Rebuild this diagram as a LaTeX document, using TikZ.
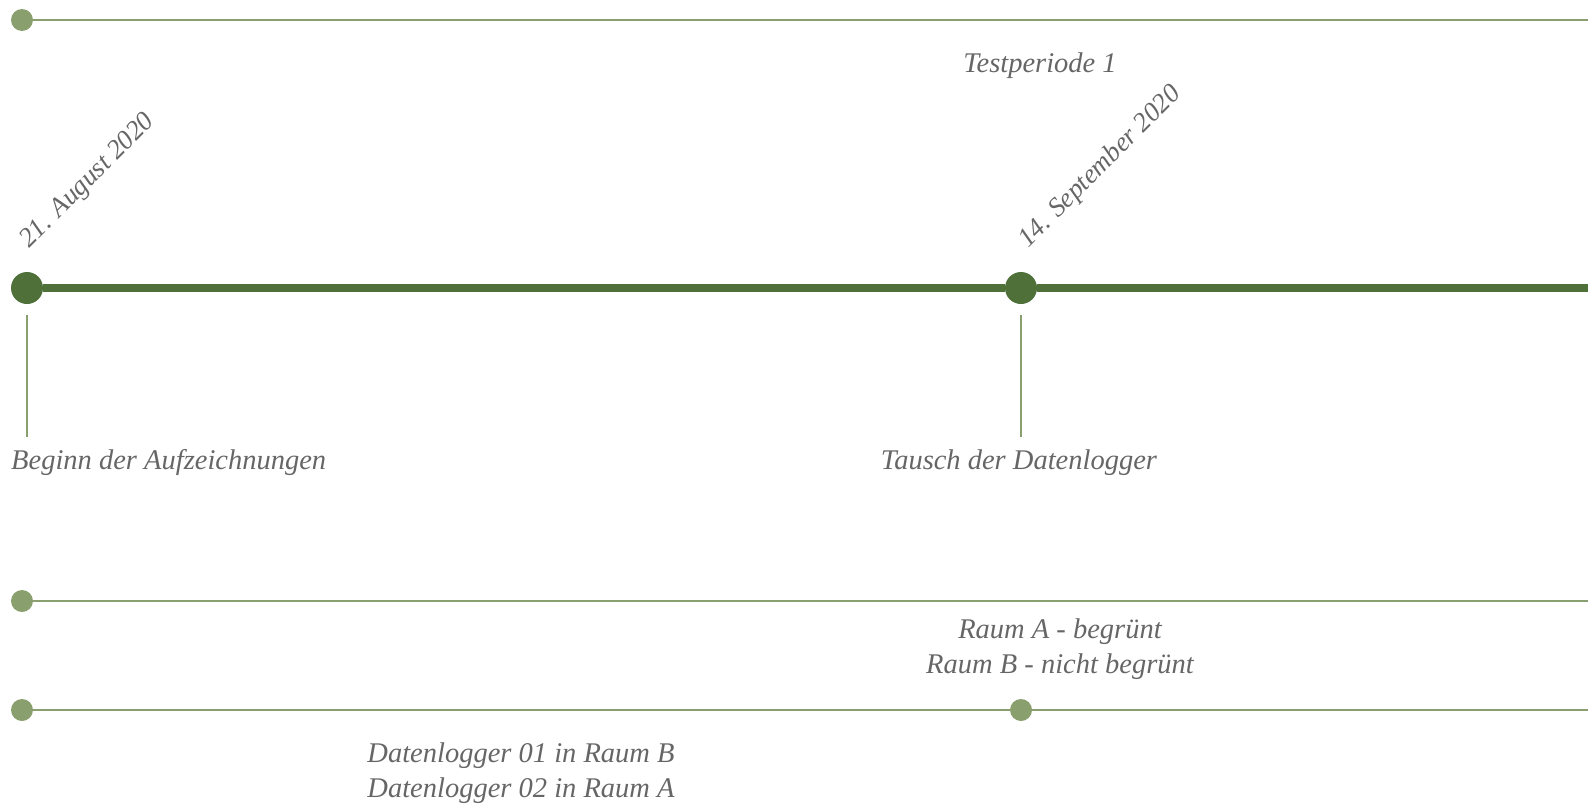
\documentclass[tikz,border=0pt]{standalone}
\usepackage{fontspec}
\setmainfont{Liberation Serif}
\definecolor{dkgreen}{HTML}{4F7139}
\definecolor{ltgreen}{HTML}{8A9F6E}
\definecolor{txtgray}{HTML}{666666}
\begin{document}
\begin{tikzpicture}[x=1pt,y=-1pt,
 lbl/.style={text=txtgray, font=\fontsize{28.5}{35}\selectfont\itshape, inner sep=0pt},
 rlbl/.style={lbl, font=\fontsize{27}{33}\selectfont\itshape, rotate=45, anchor=base west},
 smalldot/.style={circle, fill=ltgreen, minimum size=22pt, inner sep=0pt},
 bigdot/.style={circle, fill=dkgreen, minimum size=32pt, inner sep=0pt},
 thinline/.style={draw=ltgreen, line width=2.8pt},
 thickline/.style={draw=dkgreen, line width=8pt},
 tickline/.style={draw=ltgreen, line width=2pt}]
\useasboundingbox (0,0) rectangle (1588,806);
% top line
\node[smalldot] (t0) at (22,20) {};
\coordinate (tE) at (1588,20);
\draw[thinline] (t0.east) -- (tE);
\node[lbl, anchor=base] (tp) at (1040,72) {Testperiode 1};
% main line
\node[bigdot] (m1) at (27,288) {};
\node[bigdot] (m2) at (1021,288) {};
\coordinate (mE) at (1588,288);
\draw[thickline] (m1.east) -- (m2.west);
\draw[thickline] (m2.east) -- (mE);
\node[rlbl] (d1) at (29,249) {21. August 2020};
\node[rlbl] (d2) at (1028,249) {14. September 2020};
\coordinate (k1a) at (27,315);
\coordinate (k1b) at (27,437);
\coordinate (k2a) at (1021,315);
\coordinate (k2b) at (1021,437);
\draw[tickline] (k1a) -- (k1b);
\draw[tickline] (k2a) -- (k2b);
\node[lbl, anchor=base west] (b1) at (11,469) {Beginn der Aufzeichnungen};
\node[lbl, anchor=base] (b2) at (1019,469) {Tausch der Datenlogger};
% third line
\node[smalldot] (r0) at (22,601) {};
\coordinate (rE) at (1588,601);
\draw[thinline] (r0.east) -- (rE);
\node[lbl, anchor=base] (ra) at (1060,638) {Raum A - begrünt};
\node[lbl, anchor=base] (rb) at (1060,673) {Raum B - nicht begrünt};
% fourth line
\node[smalldot] (l0) at (22,710) {};
\node[smalldot] (l1) at (1021,710) {};
\coordinate (lE) at (1588,710);
\draw[thinline] (l0.east) -- (l1.west);
\draw[thinline] (l1.east) -- (lE);
\node[lbl, anchor=base] (la) at (521,762) {Datenlogger 01 in Raum B};
\node[lbl, anchor=base] (lb) at (521,797) {Datenlogger 02 in Raum A};
\end{tikzpicture}
\end{document}
